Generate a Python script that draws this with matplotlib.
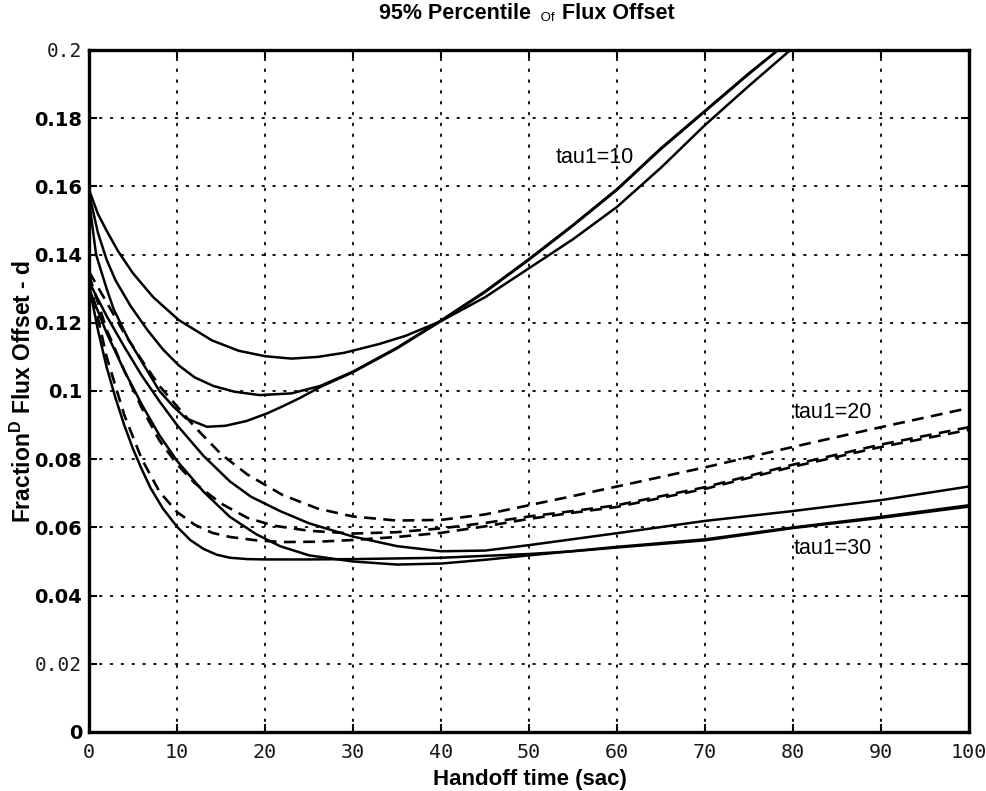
import matplotlib
matplotlib.use("Agg")
import matplotlib.pyplot as plt

# ---------------- data ----------------
x_ticks = [0, 10, 20, 30, 40, 50, 60, 70, 80, 90, 100]
x_tick_labels = ["0", "10", "20", "30", "40", "50", "60", "70", "80", "90", "100"]
y_ticks = [0, 0.02, 0.04, 0.06, 0.08, 0.10, 0.12, 0.14, 0.16, 0.18, 0.20]
y_tick_labels = ["0", "0.02", "0.04", "0.06", "0.08", "0.1", "0.12", "0.14", "0.16", "0.18", "0.2"]

# tau1 = 10 (solid)
tau10_a_x = [0, 1, 2, 3.3, 5, 7.3, 10.2, 14, 17, 20, 23, 26, 29, 33, 36, 40, 45, 50, 55, 60, 65, 70, 75, 79.7, 81]
tau10_a_y = [0.159, 0.152, 0.147, 0.141, 0.1345, 0.1275, 0.1208, 0.1148, 0.1118, 0.1102, 0.1095, 0.1100,
             0.1112, 0.1138, 0.1162, 0.1205, 0.1275, 0.1360, 0.1445, 0.1540, 0.1655, 0.178, 0.1895, 0.200, 0.203]
tau10_b_x = [0, 1, 2, 3, 4.7, 6.6, 8.4, 10.2, 12, 14.1, 16.5, 19.4, 23, 26.3, 30, 35, 40, 45, 50, 55, 60, 65, 70, 75, 78.3, 80]
tau10_b_y = [0.158, 0.1465, 0.1385, 0.1325, 0.125, 0.118, 0.1122, 0.1075, 0.104, 0.1015, 0.0998, 0.0988,
             0.0993, 0.1015, 0.1057, 0.1127, 0.1207, 0.1292, 0.1387, 0.1487, 0.1592, 0.1712, 0.1822, 0.1932, 0.2, 0.204]
tau10_c_x = [0, 0.8, 2, 2.8, 4.5, 6.6, 8, 9.6, 11, 13.4, 15.5, 17.9, 20.2, 22, 24, 26.3, 30, 35, 40, 45, 50, 55, 60, 65, 70, 75, 78.3, 80]
tau10_c_y = [0.156, 0.14, 0.13, 0.124, 0.115, 0.106, 0.1, 0.0954, 0.092, 0.0895, 0.0898, 0.0912, 0.0934,
             0.0955, 0.098, 0.1012, 0.1055, 0.1125, 0.1205, 0.129, 0.1385, 0.1485, 0.159, 0.171, 0.182, 0.193, 0.2, 0.204]

# tau1 = 20 (dashed)
tau20_a_x = [0, 2, 4, 6, 8, 10, 12, 15, 18, 22, 26, 30, 35, 40, 45, 50, 55, 60, 70, 80, 90, 100]
tau20_a_y = [0.135, 0.126, 0.117, 0.109, 0.1015, 0.0955, 0.0895, 0.0815, 0.0755, 0.0695, 0.0655, 0.0632,
             0.0620, 0.0622, 0.0638, 0.0665, 0.0692, 0.0720, 0.0776, 0.0836, 0.0894, 0.0950]
tau20_b_x = [0, 2, 4, 6, 8, 10, 12, 15, 18, 21, 25, 30, 35, 40, 45, 50, 55, 60, 70, 80, 90, 100]
tau20_b_y = [0.134, 0.118, 0.106, 0.095, 0.0855, 0.0785, 0.073, 0.067, 0.0628, 0.0605, 0.059, 0.0582,
             0.0586, 0.0597, 0.0613, 0.0632, 0.0648, 0.0665, 0.0718, 0.0784, 0.0843, 0.0894]
tau20_c_x = [0, 2, 4, 6, 8, 10, 12, 14, 16, 19, 22, 26, 30, 35, 40, 45, 50, 55, 60, 70, 80, 90, 100]
tau20_c_y = [0.133, 0.11, 0.093, 0.08, 0.0705, 0.0645, 0.0608, 0.0584, 0.0572, 0.0562, 0.0557, 0.0558,
             0.0563, 0.0572, 0.0584, 0.0603, 0.0625, 0.0643, 0.066, 0.0713, 0.0778, 0.0836, 0.0886]

# tau1 = 30 (solid)
tau30_a_x = [0, 1, 2, 3, 4, 5, 6, 7, 8.4, 10, 11.5, 13, 14.5, 16, 18, 20, 25, 30, 40, 50, 55, 60, 70, 80, 90, 100]
tau30_a_y = [0.131, 0.118, 0.107, 0.098, 0.09, 0.083, 0.077, 0.0715, 0.0655, 0.0602, 0.0563, 0.0537, 0.052,
             0.0511, 0.0507, 0.0506, 0.0506, 0.0507, 0.0511, 0.0522, 0.053, 0.0541, 0.0562, 0.0598, 0.0628, 0.0661]
tau30_b_x = [0, 2, 4, 6, 8, 10, 13, 16, 19, 21.7, 25, 30, 35, 40, 45, 50, 60, 70, 80, 90, 100]
tau30_b_y = [0.13, 0.117, 0.106, 0.096, 0.087, 0.0795, 0.0705, 0.0631, 0.058, 0.0545, 0.0518, 0.05, 0.0491,
             0.0494, 0.0505, 0.0518, 0.0543, 0.0565, 0.06, 0.0631, 0.0665]
tau30_c_x = [0, 2, 4, 6, 8, 10, 13, 16, 18.4, 21.7, 25, 30, 35, 40, 45, 50, 60, 70, 80, 90, 100]
tau30_c_y = [0.132, 0.122, 0.113, 0.1045, 0.097, 0.09, 0.081, 0.0735, 0.069, 0.0648, 0.0612, 0.0573, 0.0545,
             0.053, 0.0532, 0.0548, 0.0583, 0.0619, 0.0648, 0.068, 0.072]

curve_labels = ["tau1=10", "tau1=20", "tau1=30"]
curve_label_x = [53, 80.1, 80.1]
curve_label_y = [0.1685, 0.0938, 0.0537]

# ---------------- figure ----------------
fig = plt.figure(figsize=(9.87, 7.91), dpi=100)
ax = fig.add_axes([0.0902, 0.0746, 0.8916, 0.8622])
ax.set_xlim(0, 100)
ax.set_ylim(0, 0.2)

solid_kw = dict(color="black", lw=1.8, solid_capstyle="round", solid_joinstyle="round", zorder=3)
dash_kw = dict(color="black", lw=1.9, linestyle=(0, (4.5, 2.8)), zorder=3)

for xs, ys in [(tau10_a_x, tau10_a_y), (tau10_b_x, tau10_b_y), (tau10_c_x, tau10_c_y),
               (tau30_a_x, tau30_a_y), (tau30_b_x, tau30_b_y), (tau30_c_x, tau30_c_y)]:
    ax.plot(xs, ys, **solid_kw)
for xs, ys in [(tau20_a_x, tau20_a_y), (tau20_b_x, tau20_b_y), (tau20_c_x, tau20_c_y)]:
    ax.plot(xs, ys, **dash_kw)

for lab, lx, ly in zip(curve_labels, curve_label_x, curve_label_y):
    ax.text(lx, ly, lab, fontsize=15.5, family="Liberation Sans", va="center", ha="left", zorder=4)

# grid and spines
ax.grid(True, color="black", linestyle=(0, (1, 5)), lw=1.3, dash_capstyle="round")
for sp in ax.spines.values():
    sp.set_linewidth(2.4)

ax.set_xticks(x_ticks)
ax.set_xticklabels(x_tick_labels)
ax.set_yticks(y_ticks)
ax.set_yticklabels(y_tick_labels)
ax.tick_params(direction="in", length=6, width=1.5, top=True, right=True)
ax.tick_params(axis="x", pad=8)
ax.tick_params(axis="y", pad=5)

for lab in ax.get_xticklabels():
    lab.set_fontfamily("DejaVu Sans Mono")
    lab.set_fontsize(14.5)
    lab.set_color("#1a1a1a")
for lab in ax.get_yticklabels():
    if lab.get_text() in ("0.2", "0.02"):
        lab.set_fontfamily("DejaVu Sans Mono")
        lab.set_fontsize(14)
        lab.set_fontweight("normal")
        lab.set_color("#1a1a1a")
    else:
        lab.set_fontfamily("DejaVu Sans")
        lab.set_fontsize(14)
        lab.set_fontweight("bold")

ax.set_xlabel("Handoff time (sac)", fontsize=16, fontweight="bold", family="Liberation Sans",
              va="top")
ax.xaxis.set_label_coords(0.501, -0.054)
ax.set_ylabel("Fraction$^{\\mathregular{D}}$ Flux Offset - d", fontsize=16.5, fontweight="bold",
              family="Liberation Sans")
ax.yaxis.set_label_coords(-0.060, 0.5)

# title in three parts: "95% Percentile" + small "Of" + "Flux Offset"
t1 = fig.text(0.384, 0.983, "95% Percentile ", fontsize=15.5, fontweight="bold",
              family="Liberation Sans", ha="left", va="center")
t2 = ax.annotate(" Of  ", xy=(1, 0), xycoords=t1, fontsize=9.5, family="Liberation Sans",
                 ha="left", va="bottom", annotation_clip=False)
t3 = ax.annotate("Flux Offset", xy=(1, 0), xycoords=t2, fontsize=15.5, fontweight="bold",
                 family="Liberation Sans", ha="left", va="bottom", annotation_clip=False)

fig.savefig("out.png", dpi=100)
